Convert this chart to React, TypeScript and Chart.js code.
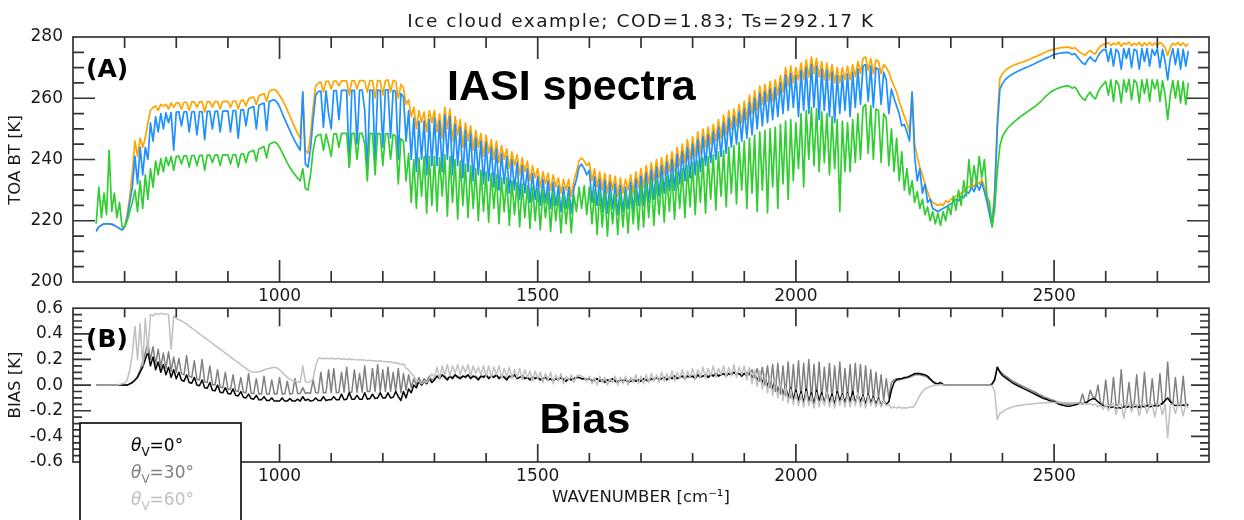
import React, { useEffect, useRef } from "react";
import { Chart, registerables } from "chart.js";

Chart.register(...registerables);

// Channel grid (cm-1): every series holds one value per channel
const WN_START = 645;
const WN_STEP = 5;

// TOA brightness temperature [K] for the three viewing angles
const BT_VIEW_0 = [
  // 645
  217, 218, 218.5, 219, 219, 219, 219, 218.5, 218, 217.5, 217,
  // 700
  218, 222, 228, 236, 246, 241, 247, 244, 247, 252, 256, 257, 257.5, 256, 258, 257.5, 258, 256.5, 258.5, 257,
  // 800
  258.5, 258.5, 256.5, 258.7, 258.7, 256, 258.8, 258.8, 257, 258.8, 258.9, 255.5, 258.9, 258.9, 257, 259, 259, 256.5, 259, 259,
  // 900
  259, 257, 259.1, 259.1, 256.5, 259.2, 259.4, 257.5, 259.8, 260.2, 260.4, 258, 260.8, 261.2, 261.5, 259, 262.2, 262.7, 262.9, 262.2,
  // 1000
  261, 259.6, 258, 256.2, 254.2, 252.2, 250.3, 248.5, 247, 262, 243, 242, 248, 257, 264, 265, 265.3, 262, 265.5, 265.5,
  // 1100
  263, 265.6, 265.6, 264, 265.7, 265.7, 265.7, 261, 265.7, 265.7, 263, 265.8, 265.8, 265.5, 262, 265.8, 265.8, 260, 265.8, 265.7,
  // 1200
  261, 265.8, 266, 262, 265.8, 265.5, 260, 264.5, 263.5, 258, 259.5, 254, 257, 250, 256, 252, 255.5, 249, 256, 252,
  // 1300
  256, 249, 255, 247, 257, 250, 256.5, 246, 254, 248, 253, 244, 252, 246, 251, 243, 249.5, 244, 248.5, 241,
  // 1400
  248, 242, 246.5, 240, 246, 239, 244.5, 240, 243.5, 237, 242.5, 238, 241.5, 235, 240.5, 236, 239.5, 233, 238, 234,
  // 1500
  237, 231, 236, 232, 235.5, 230, 235, 231, 234, 229, 233.5, 230, 233.5, 228, 233, 236, 239.5, 240.5, 239.5, 238,
  // 1600
  239, 233, 237, 231, 236, 230, 235.5, 229, 235, 230, 234.5, 228, 234, 229, 233.5, 230, 235, 229, 236, 231,
  // 1700
  237, 231, 238, 232, 239, 233, 240, 234, 240.5, 235, 241.5, 236, 242.5, 236, 244, 238, 245, 239, 246.5, 240,
  // 1800
  247.5, 241, 249, 242, 250, 244, 250.5, 245, 251.5, 246, 253, 247, 254.5, 248, 256, 250, 256.5, 251, 258, 252,
  // 1900
  259, 253, 261, 255, 262.5, 256, 264, 258, 264.5, 259, 265.5, 259, 266, 261, 267.5, 262, 270, 264, 270.5, 265,
  // 2000
  270, 266, 271.5, 266, 272.5, 267, 273.5, 268, 273, 267, 272, 266, 271.5, 266, 271, 265, 270, 265, 270, 266,
  // 2100
  270.5, 266, 271, 267, 272, 268, 273, 273.5, 269, 273, 268, 272.5, 272, 268, 271, 270, 268.5, 266, 264, 262,
  // 2200
  259, 256.5, 254, 252, 249, 262, 245, 241, 237.5, 235, 232, 229.5, 227, 226, 225.5, 225, 225.5, 225, 226.5, 226,
  // 2300
  227, 227.5, 228, 228.5, 229, 229.5, 230.5, 231, 232, 231, 233, 232, 233.5, 231, 228, 223, 219, 230, 253, 266.5,
  // 2400
  268, 269, 269.7, 270.2, 270.6, 271, 271.3, 271.6, 271.9, 272.2, 272.5, 272.9, 273.3, 273.6, 274, 274.4, 274.8, 275.2, 275.5, 275.8,
  // 2500
  276, 276.2, 276.4, 276.5, 276.6, 276.7, 276.6, 276.2, 276.5, 275.8, 275, 274.5, 274, 275, 275.6, 274.8, 274.5, 276, 277, 277.6,
  // 2600
  277.8, 278.2, 277.2, 278, 277.5, 278.3, 277, 278, 277.6, 278.3, 277.1, 278, 277.4, 278.2, 277, 278.1, 277.3, 278.3, 277.2, 278,
  // 2700
  277.3, 278.2, 277.5, 276.5, 274, 276.5, 278, 277.4, 278.2, 277.2, 278.1, 277, 277.8,
];

const BT_VIEW_30 = [
  // 645
  216.5, 218, 218.5, 219, 219, 219, 218.8, 218.5, 218, 217.5, 217,
  // 700
  218, 221, 226, 231, 241, 232, 244, 235, 244, 240, 252, 246, 254, 249, 255, 250, 255.2, 252, 255.3, 243,
  // 800
  255.5, 255.6, 251, 255.6, 255.6, 249, 255.6, 255.6, 248, 255.6, 255.6, 246.5, 255.7, 255.7, 250, 255.7, 255.8, 249, 255.8, 255.8,
  // 900
  255.9, 249, 256, 256, 247, 256.1, 256.3, 251, 256.6, 257, 257.3, 250, 257.7, 258.1, 258.4, 249.5, 258.9, 259.3, 259.5, 258.7,
  // 1000
  257.3, 255.2, 253.2, 251.3, 249.4, 247.6, 245.9, 244.4, 243, 262, 238.5, 237.5, 243.5, 253, 261, 262.2, 262.3, 250.5, 262.4, 255,
  // 1100
  250, 262.5, 262.5, 253, 262.6, 262.6, 262.6, 237.5, 262.6, 262.6, 245, 262.7, 262.7, 256, 236.5, 262.7, 262.7, 240, 262.7, 262.6,
  // 1200
  244, 262.7, 262.8, 247, 262.6, 262.2, 240, 261.5, 260.5, 246, 256, 240, 253.5, 236, 252.5, 240, 252.5, 235, 253, 238,
  // 1300
  253.5, 238, 252.5, 236, 254.5, 240, 254, 235, 251.5, 238, 250.5, 234, 249.5, 236, 248.5, 233, 247, 235, 246, 232,
  // 1400
  245.5, 233, 244, 231, 243.5, 230, 242, 232, 241, 229, 240, 230, 239, 227, 238, 229, 237, 226, 235.5, 227,
  // 1500
  234.5, 225, 233.5, 226, 233, 224, 232.5, 225, 231.5, 223, 231, 224, 231, 222.5, 230.5, 233.5, 237.5, 238.5, 237, 235,
  // 1600
  236.5, 226, 234.5, 225, 233.5, 223, 233, 222.5, 232.5, 224, 232, 222, 231.5, 223, 231, 224, 232.5, 223, 233.5, 225,
  // 1700
  234.5, 225, 235.5, 226, 236.5, 227, 237.5, 228, 238, 229, 239, 230, 240, 230, 241.5, 232, 242.5, 233, 244, 234,
  // 1800
  245, 235, 246.5, 236, 247.5, 238, 248, 239, 249, 240, 250.5, 241, 252, 242, 253.5, 244, 254, 245, 255.5, 246,
  // 1900
  256.5, 247, 258.5, 248, 260, 250, 261.5, 251, 262, 252, 263, 253, 263.5, 254, 265, 255, 267.5, 256, 268, 257,
  // 2000
  267.5, 254, 269, 256, 270, 255, 271, 257, 270.5, 253, 269.5, 256, 269, 254, 268.5, 252, 267.5, 255, 267.5, 256,
  // 2100
  268, 254, 268.5, 257, 269.5, 258, 270.5, 271, 259, 270.5, 257, 270, 269.5, 258, 268.5, 266, 255, 263, 260, 257.5,
  // 2200
  255, 251, 251.5, 249, 246, 262, 241, 233, 237, 229, 232, 226, 227, 224, 223.5, 223, 223.5, 224, 224.5, 225,
  // 2300
  225.5, 226, 227, 226.5, 228, 227.5, 229.5, 229, 231, 229.5, 232, 230, 232.5, 229.5, 226, 222, 218, 228, 250, 263,
  // 2400
  264.8, 266, 266.8, 267.4, 267.9, 268.4, 268.8, 269.2, 269.6, 270, 270.3, 270.7, 271.1, 271.5, 271.9, 272.3, 272.7, 273.1, 273.5, 273.9,
  // 2500
  274.3, 274.5, 274.7, 274.8, 274.9, 275, 274.8, 274.2, 274.6, 273.5, 272.5, 271.5, 271, 272.5, 273.5, 272.5, 272, 273.8, 275, 275.8,
  // 2600
  276, 272, 276.2, 270.5, 276, 275, 269.5, 276.2, 273, 276.3, 270, 276, 275.5, 269.5, 276.2, 272, 276.3, 270.5, 276, 274,
  // 2700
  276.2, 270, 276, 272, 266, 273, 276.2, 271, 276.1, 269.5, 276, 270.5, 275.5,
];

const BT_VIEW_60 = [
  // 645
  219, 231, 221, 229, 222, 243, 223, 229, 221, 226, 218,
  // 700
  218, 220, 223, 226, 230, 223, 233, 224, 235, 227, 237, 231, 239.5, 235, 240.3, 236, 240.7, 238, 241, 236.5,
  // 800
  241, 241.1, 238.5, 241.2, 241.2, 237.5, 241.3, 241.3, 238, 241.3, 241.4, 236.5, 241.4, 241.4, 239, 241.4, 241.5, 238, 241.5, 241.5,
  // 900
  241.5, 238.5, 241.6, 241.6, 237.5, 241.7, 241.9, 239, 242.3, 242.7, 243, 239.5, 243.4, 243.8, 244.2, 240.5, 244.9, 245.4, 245.7, 245.2,
  // 1000
  244, 242.3, 240.6, 238.9, 237.4, 236.1, 235, 233.9, 233, 237, 230.5, 230, 235, 243, 247.3, 248, 248.2, 243, 248.3, 245,
  // 1100
  241, 248.4, 248.4, 244, 248.5, 248.5, 248.5, 237.5, 248.5, 248.5, 240, 248.5, 248.5, 245, 233, 248.5, 248.5, 235, 248.5, 248.4,
  // 1200
  238, 248.4, 248.5, 240, 248.2, 247.6, 232, 246.8, 246, 233, 242, 226, 240, 224, 240.5, 228, 241, 222.5, 241, 225,
  // 1300
  241, 223, 240.5, 228, 241.5, 221.5, 241, 226, 240, 220.5, 239.5, 225, 238.5, 221, 238, 224, 237, 220, 236.5, 223,
  // 1400
  236, 219.5, 235.5, 224, 235, 219, 234, 223, 234, 218.5, 233, 222, 232.5, 218, 232, 221, 231.5, 217.5, 231, 220,
  // 1500
  230.5, 217, 230, 221, 229.5, 216.5, 229, 220, 228.5, 216, 228.5, 219, 228, 216, 228.5, 223, 231, 224, 231.5, 222,
  // 1600
  231, 219, 230, 215.5, 229.5, 218, 229, 215, 229, 219, 228.5, 215.5, 229, 218, 229, 216, 230, 219, 230.5, 217,
  // 1700
  231.5, 218, 232.5, 221, 233, 218.5, 233.5, 222, 234, 219.5, 234.5, 223, 235.5, 220.5, 236, 224, 237, 221, 238, 224.5,
  // 1800
  239, 222, 239.5, 226, 240.5, 222.5, 241, 227, 241.5, 223.5, 242.5, 228, 243, 224.5, 244, 229, 244.5, 225.5, 245.5, 230,
  // 1900
  246, 224, 247, 229, 248, 223, 249, 230, 249.5, 222.5, 250, 231, 250.5, 224, 251.5, 232, 252.5, 227, 253, 233,
  // 2000
  252, 237, 255, 231, 256, 240, 257, 238, 256.5, 236, 255.5, 239, 255, 235, 254, 237, 253, 223, 252.5, 236,
  // 2100
  252, 236, 253, 239, 255, 240, 257, 258, 242, 257.5, 240, 256.5, 256, 239, 255, 253.5, 238, 250, 236, 247,
  // 2200
  233, 242.5, 230, 237, 228.5, 233, 226, 229.5, 224, 227, 222, 224.5, 220, 223, 219, 222.5, 218.5, 223, 220, 225,
  // 2300
  222, 228, 223.5, 230, 225, 233, 228, 240, 231, 238, 232, 241, 234, 240, 228, 226, 218, 224, 236, 244.5,
  // 2400
  247.5, 249, 250.2, 251.1, 251.9, 252.6, 253.3, 254, 254.6, 255.2, 255.8, 256.4, 257, 257.6, 258.3, 259, 260, 260.8, 261.5, 262.2,
  // 2500
  262.7, 263.1, 263.4, 263.7, 263.9, 264.1, 263.9, 263.3, 263.7, 262.6, 261, 260, 259.3, 261, 262, 260.5, 259.8, 262, 263.5, 264.5,
  // 2600
  265.5, 261, 266, 259, 265.8, 264.5, 258.5, 266, 262, 266.2, 259.5, 266, 265, 258.5, 266, 261.5, 266.2, 259, 266, 263,
  // 2700
  266, 259, 265.8, 261, 253, 261, 265.8, 260, 265.7, 258.5, 265.5, 258, 265,
];

// Bias [K] for the three viewing angles
const BIAS_VIEW_0 = [
  // 645
  0, 0, 0, 0, 0, 0, 0, 0, 0, 0, 0,
  // 700
  0, 0, 0.01, 0.02, 0.04, 0.06, 0.1, 0.14, 0.2, 0.26, 0.15, 0.22, 0.12, 0.18, 0.1, 0.16, 0.08, 0.14, 0.06, 0.12,
  // 800
  0.05, 0.1, 0.04, 0.03, 0.08, 0.02, 0.015, 0.06, 0, -0.005, 0.04, -0.02, -0.025, 0.02, -0.04, -0.045, 0, -0.055, -0.06, -0.02,
  // 900
  -0.065, -0.07, -0.03, -0.08, -0.085, -0.05, -0.095, -0.1, -0.07, -0.105, -0.11, -0.08, -0.115, -0.115, -0.09, -0.12, -0.12, -0.1, -0.125, -0.125,
  // 1000
  -0.125, -0.1, -0.125, -0.125, -0.105, -0.125, -0.125, -0.11, -0.125, -0.09, -0.12, -0.11, -0.125, -0.12, -0.1, -0.12, -0.12, -0.09, -0.12, -0.115,
  // 1100
  -0.115, -0.09, -0.115, -0.115, -0.07, -0.115, -0.11, -0.06, -0.11, -0.11, -0.08, -0.11, -0.11, -0.06, -0.11, -0.105, -0.07, -0.105, -0.1, -0.06,
  // 1200
  -0.1, -0.1, -0.06, -0.1, -0.095, -0.05, -0.09, -0.12, -0.05, -0.1, -0.03, -0.06, 0, -0.02, 0.03, 0, 0.03, 0.01, 0.05, 0.02,
  // 1300
  0.04, 0.07, 0.05, 0.08, 0.06, 0.04, 0.07, 0.05, 0.08, 0.06, 0.05, 0.07, 0.06, 0.08, 0.05, 0.07, 0.06, 0.04, 0.07, 0.06,
  // 1400
  0.08, 0.05, 0.07, 0.06, 0.08, 0.05, 0.07, 0.06, 0.04, 0.07, 0.06, 0.08, 0.05, 0.06, 0.07, 0.05, 0.06, 0.04, 0.06, 0.05,
  // 1500
  0.06, 0.04, 0.05, 0.06, 0.04, 0.05, 0.03, 0.05, 0.04, 0.06, 0.04, 0.03, 0.05, 0.04, 0.05, 0.06, 0.06, 0.05, 0.05, 0.04,
  // 1600
  0.05, 0.03, 0.04, 0.05, 0.03, 0.04, 0.02, 0.04, 0.03, 0.05, 0.03, 0.02, 0.04, 0.03, 0.04, 0.02, 0.03, 0.04, 0.03, 0.04,
  // 1700
  0.03, 0.05, 0.04, 0.03, 0.05, 0.04, 0.06, 0.04, 0.05, 0.06, 0.04, 0.06, 0.05, 0.07, 0.05, 0.06, 0.07, 0.05, 0.07, 0.06,
  // 1800
  0.07, 0.05, 0.08, 0.06, 0.07, 0.08, 0.06, 0.08, 0.07, 0.09, 0.07, 0.08, 0.09, 0.07, 0.09, 0.08, 0.1, 0.08, 0.09, 0.07,
  // 1900
  0.09, 0.07, 0.1, 0.06, 0.09, 0.04, 0.08, 0.02, 0.07, -0.01, 0.05, -0.03, 0.04, -0.06, 0.02, -0.08, 0, -0.1, -0.02, -0.11,
  // 2000
  -0.04, -0.12, -0.05, -0.14, -0.03, -0.13, -0.06, -0.15, -0.04, -0.12, -0.06, -0.14, -0.05, -0.13, -0.07, -0.15, -0.05, -0.12, -0.07, -0.14,
  // 2100
  -0.06, -0.13, -0.05, -0.14, -0.07, -0.13, -0.08, -0.15, -0.07, -0.14, -0.09, -0.15, -0.1, -0.16, -0.12, -0.15, -0.13, -0.04, 0.02, 0.04,
  // 2200
  0.05, 0.05, 0.06, 0.06, 0.07, 0.08, 0.09, 0.09, 0.09, 0.085, 0.08, 0.07, 0.05, 0.03, 0.015, 0.01, 0.02, 0.005, 0, 0,
  // 2300
  0, 0, 0, 0, 0, 0, 0, 0, 0, 0, 0, 0, 0, 0, 0, 0, 0.01, 0.04, 0.14, 0.1,
  // 2400
  0.075, 0.06, 0.045, 0.03, 0.015, 0.005, -0.005, -0.015, -0.025, -0.035, -0.045, -0.055, -0.065, -0.075, -0.085, -0.095, -0.105, -0.11, -0.12, -0.125,
  // 2500
  -0.13, -0.14, -0.15, -0.155, -0.16, -0.165, -0.165, -0.16, -0.155, -0.15, -0.14, -0.145, -0.14, -0.13, -0.115, -0.105, -0.11, -0.13, -0.15, -0.16,
  // 2600
  -0.165, -0.17, -0.175, -0.17, -0.18, -0.175, -0.18, -0.17, -0.175, -0.165, -0.175, -0.17, -0.165, -0.175, -0.165, -0.17, -0.16, -0.17, -0.165, -0.16,
  // 2700
  -0.165, -0.155, -0.14, -0.12, -0.1, -0.13, -0.15, -0.16, -0.155, -0.16, -0.155, -0.16, -0.155,
];

const BIAS_VIEW_30 = [
  // 645
  0, 0, 0, 0, 0, 0, 0, 0, 0, 0, 0,
  // 700
  0, 0, 0.01, 0.02, 0.04, 0.07, 0.12, 0.18, 0.25, 0.33, 0.2, 0.3, 0.16, 0.28, 0.14, 0.25, 0.13, 0.26, 0.11, 0.22,
  // 800
  0.1, 0.21, 0.09, 0.08, 0.23, 0.07, 0.06, 0.19, 0.045, 0.04, 0.2, 0.025, 0.02, 0.15, 0.005, 0, 0.12, -0.015, -0.02, 0.1,
  // 900
  -0.03, -0.035, 0.08, -0.045, -0.05, 0.06, -0.055, -0.06, 0.09, -0.065, -0.065, 0.05, -0.07, -0.07, 0.07, -0.07, -0.07, 0.04, -0.07, -0.07,
  // 1000
  0.06, -0.07, -0.07, 0.03, -0.07, -0.065, 0.05, -0.065, -0.065, -0.02, -0.065, -0.06, -0.065, 0.04, -0.06, -0.06, 0.1, -0.06, -0.06, 0.12,
  // 1100
  -0.06, 0.13, -0.06, -0.055, 0.1, -0.055, 0.14, -0.055, -0.055, 0.12, -0.055, 0.09, -0.055, 0.15, -0.05, -0.05, 0.13, -0.05, 0.16, -0.05,
  // 1200
  0.12, -0.05, 0.14, -0.05, 0.1, -0.05, 0.13, -0.06, 0.09, -0.04, 0.08, -0.02, 0.05, 0, 0.06, 0.01, 0.05, 0.03, 0.07, 0.04,
  // 1300
  0.05, 0.07, 0.06, 0.08, 0.07, 0.05, 0.07, 0.06, 0.08, 0.07, 0.06, 0.07, 0.07, 0.08, 0.06, 0.07, 0.07, 0.05, 0.07, 0.07,
  // 1400
  0.08, 0.06, 0.07, 0.07, 0.08, 0.06, 0.07, 0.07, 0.05, 0.07, 0.07, 0.08, 0.06, 0.06, 0.07, 0.06, 0.06, 0.05, 0.06, 0.06,
  // 1500
  0.06, 0.05, 0.05, 0.06, 0.05, 0.05, 0.04, 0.05, 0.05, 0.06, 0.05, 0.04, 0.05, 0.05, 0.05, 0.06, 0.06, 0.05, 0.05, 0.05,
  // 1600
  0.05, 0.04, 0.04, 0.05, 0.04, 0.04, 0.03, 0.04, 0.04, 0.05, 0.04, 0.03, 0.04, 0.04, 0.04, 0.03, 0.04, 0.04, 0.04, 0.04,
  // 1700
  0.04, 0.05, 0.04, 0.04, 0.05, 0.05, 0.06, 0.05, 0.05, 0.06, 0.05, 0.06, 0.06, 0.07, 0.06, 0.06, 0.07, 0.06, 0.07, 0.07,
  // 1800
  0.07, 0.06, 0.08, 0.07, 0.07, 0.08, 0.07, 0.08, 0.08, 0.09, 0.08, 0.08, 0.09, 0.08, 0.09, 0.09, 0.1, 0.09, 0.09, 0.08,
  // 1900
  0.09, 0.1, 0.08, 0.12, 0.06, 0.13, 0.03, 0.14, 0, 0.15, -0.02, 0.16, -0.05, 0.17, -0.07, 0.15, -0.08, 0.18, -0.1, 0.16,
  // 2000
  -0.1, 0.19, -0.11, 0.17, -0.09, 0.2, -0.12, 0.16, -0.1, 0.18, -0.11, 0.14, -0.09, 0.17, -0.12, 0.15, -0.1, 0.18, -0.11, 0.13,
  // 2100
  -0.1, 0.16, -0.11, 0.17, -0.09, 0.16, -0.12, 0.15, -0.1, 0.12, -0.12, 0.1, -0.1, 0.08, -0.12, 0.05, -0.1, 0.02, 0.04, 0.05,
  // 2200
  0.04, 0.05, 0.05, 0.06, 0.06, 0.07, 0.08, 0.08, 0.08, 0.075, 0.07, 0.06, 0.04, 0.025, 0.01, 0.01, 0.015, 0.005, 0, 0,
  // 2300
  0, 0, 0, 0, 0, 0, 0, 0, 0, 0, 0, 0, 0, 0, 0, 0, 0.01, 0.05, 0.14, 0.11,
  // 2400
  0.09, 0.075, 0.06, 0.045, 0.03, 0.02, 0.01, 0, -0.01, -0.02, -0.03, -0.04, -0.05, -0.06, -0.07, -0.08, -0.09, -0.1, -0.105, -0.115,
  // 2500
  -0.12, -0.13, -0.135, -0.14, -0.145, -0.15, -0.15, -0.145, -0.14, -0.14, -0.14, -0.07, -0.14, -0.13, -0.04, -0.09, -0.1, 0, -0.14, -0.15,
  // 2600
  0.04, -0.15, -0.16, 0.06, -0.16, -0.15, 0.12, -0.16, -0.16, 0.02, -0.16, -0.15, 0.08, -0.16, -0.16, 0.1, -0.15, -0.16, 0.05, -0.15,
  // 2700
  -0.15, 0.09, -0.15, -0.12, 0.18, -0.12, -0.15, 0.06, -0.15, -0.15, 0.07, -0.15, -0.15,
];

const BIAS_VIEW_60 = [
  // 645
  0, 0, 0, 0, 0, 0, 0, 0, 0, 0.005, 0.01,
  // 700
  0.015, 0.04, 0.12, 0.25, 0.46, 0.2, 0.48, 0.15, 0.52, 0.25, 0.55, 0.54, 0.56, 0.55, 0.56, 0.555, 0.555, 0.55, 0.28, 0.54,
  // 800
  0.52, 0.51, 0.5, 0.49, 0.475, 0.46, 0.445, 0.43, 0.415, 0.4, 0.385, 0.37, 0.355, 0.34, 0.325, 0.31, 0.295, 0.28, 0.265, 0.25,
  // 900
  0.235, 0.22, 0.205, 0.19, 0.175, 0.16, 0.145, 0.13, 0.115, 0.105, 0.1, 0.1, 0.105, 0.11, 0.12, 0.125, 0.13, 0.135, 0.14, 0.135,
  // 1000
  0.12, 0.1, 0.08, 0.06, 0.045, 0.035, 0.03, 0.025, 0.02, 0.15, 0.025, 0.02, 0.025, 0.05, 0.15, 0.21, 0.21, 0.205, 0.21, 0.205,
  // 1100
  0.21, 0.205, 0.205, 0.21, 0.2, 0.205, 0.2, 0.205, 0.2, 0.2, 0.195, 0.2, 0.195, 0.195, 0.19, 0.195, 0.19, 0.19, 0.185, 0.19,
  // 1200
  0.185, 0.185, 0.18, 0.18, 0.175, 0.175, 0.17, 0.16, 0.165, 0.13, 0.12, 0.09, 0.07, 0.04, 0.03, 0.01, 0.03, 0.02, 0.05, 0.09,
  // 1300
  0.06, 0.14, 0.05, 0.15, 0.08, 0.16, 0.07, 0.15, 0.09, 0.16, 0.08, 0.15, 0.1, 0.16, 0.07, 0.15, 0.09, 0.14, 0.08, 0.15,
  // 1400
  0.07, 0.15, 0.06, 0.14, 0.08, 0.15, 0.05, 0.13, 0.07, 0.14, 0.05, 0.12, 0.06, 0.13, 0.04, 0.12, 0.06, 0.11, 0.03, 0.11,
  // 1500
  0.05, 0.1, 0.02, 0.09, 0.04, 0.1, 0.01, 0.08, 0.03, 0.09, 0.01, 0.07, 0.04, 0.08, 0.02, 0.07, 0.08, 0.07, 0.06, 0.03,
  // 1600
  0.07, 0.01, 0.06, 0, 0.07, 0.02, 0.06, 0, 0.05, 0.02, 0.07, 0, 0.06, 0.01, 0.07, 0, 0.06, 0.02, 0.08, 0.01,
  // 1700
  0.07, 0.01, 0.08, 0.02, 0.09, 0.03, 0.08, 0.02, 0.1, 0.03, 0.09, 0.04, 0.11, 0.03, 0.1, 0.05, 0.12, 0.04, 0.11, 0.06,
  // 1800
  0.13, 0.05, 0.12, 0.06, 0.14, 0.05, 0.13, 0.07, 0.15, 0.06, 0.13, 0.08, 0.15, 0.06, 0.14, 0.07, 0.16, 0.06, 0.14, 0.08,
  // 1900
  0.15, 0.04, 0.14, 0.01, 0.12, -0.01, 0.11, -0.03, 0.09, -0.06, 0.07, -0.08, 0.05, -0.1, 0.03, -0.12, 0, -0.14, -0.03, -0.15,
  // 2000
  -0.06, -0.16, -0.07, -0.17, -0.05, -0.16, -0.08, -0.18, -0.06, -0.17, -0.08, -0.16, -0.05, -0.17, -0.09, -0.18, -0.07, -0.16, -0.08, -0.17,
  // 2100
  -0.07, -0.17, -0.08, -0.16, -0.06, -0.17, -0.09, -0.18, -0.08, -0.16, -0.1, -0.17, -0.11, -0.17, -0.12, -0.16, -0.15, -0.18, -0.17, -0.18,
  // 2200
  -0.17, -0.18, -0.175, -0.18, -0.17, -0.175, -0.16, -0.12, -0.08, -0.05, -0.03, -0.02, -0.01, -0.005, 0, 0, 0.005, 0, 0, 0,
  // 2300
  0, 0, 0, 0, 0, 0, 0, 0, 0, 0, 0, 0, 0, 0, 0, 0, -0.005, -0.05, -0.27, -0.22,
  // 2400
  -0.21, -0.195, -0.185, -0.177, -0.17, -0.165, -0.161, -0.158, -0.155, -0.152, -0.15, -0.148, -0.145, -0.143, -0.141, -0.14, -0.138, -0.137, -0.136, -0.135,
  // 2500
  -0.135, -0.135, -0.135, -0.136, -0.137, -0.138, -0.138, -0.139, -0.14, -0.14, -0.14, -0.142, -0.145, -0.15, -0.145, -0.155, -0.15, -0.17, -0.155, -0.19,
  // 2600
  -0.15, -0.2, -0.15, -0.145, -0.23, -0.15, -0.15, -0.26, -0.15, -0.145, -0.21, -0.15, -0.15, -0.24, -0.145, -0.15, -0.22, -0.15, -0.15, -0.25,
  // 2700
  -0.15, -0.15, -0.23, -0.15, -0.41, -0.15, -0.15, -0.22, -0.15, -0.15, -0.24, -0.15, -0.18,
];

// Axis ranges and tick spacing
const X_RANGE = [600, 2800];
const BT_RANGE = [200, 280];
const BIAS_RANGE = [-0.6, 0.6];
const X_MINOR = 100;
const X_MAJOR = 500;

const TITLE = "Ice cloud example; COD=1.83; Ts=292.17 K";
const VIEW_ANGLES = ["0°", "30°", "60°"];

const COLORS = {
  view0: "#FFA500",
  view30: "#1E90FF",
  view60: "#32CD32",
  bias0: "#000000",
  bias30: "#808080",
  bias60: "#C0C0C0",
  frame: "#333333",
  text: "#1a1a1a",
};

const FONT = '"DejaVu Sans", Verdana, sans-serif';
const HEAVY_FONT = '"Liberation Sans", Arial, Helvetica, sans-serif';

const W = 1244;
const PLOT_LEFT = 73;
const PLOT_RIGHT = 1209;
const TOP_H = 310;
const TOP_PLOT_TOP = 37;
const TOP_PLOT_BOTTOM = 282;
const BOT_TOP = 288;
const BOT_H = 232;
const BOT_PLOT_TOP = 307;
const BOT_PLOT_BOTTOM = 462;
const X_AXIS_H = 28;

const toPoints = (vals: number[]) =>
  vals.map((y, i) => ({ x: WN_START + i * WN_STEP, y }));

type FrameCfg = {
  yMinor: number;
  yMajor: number;
  minorLen: number;
  majorLen: number;
};

// Box around the plot area with inward ticks on all four sides,
// plus the wavenumber labels under the major x ticks
function framePlugin(cfg: FrameCfg) {
  return {
    id: "frame",
    afterDraw(chart: any) {
      const { ctx, chartArea } = chart;
      const { left, right, top, bottom } = chartArea;
      const xs = chart.scales.x;
      const ys = chart.scales.y;
      const onStep = (v: number, step: number) =>
        Math.abs(v / step - Math.round(v / step)) < 1e-6;
      ctx.save();
      ctx.strokeStyle = COLORS.frame;
      ctx.lineWidth = 1.7;
      ctx.beginPath();
      const nx = Math.round((xs.max - xs.min) / X_MINOR);
      const xLabels: { px: number; v: number }[] = [];
      for (let k = 1; k < nx; k++) {
        const v = xs.min + k * X_MINOR;
        const px = xs.getPixelForValue(v);
        const major = onStep(v, X_MAJOR);
        const len = major ? cfg.majorLen : cfg.minorLen;
        if (major) xLabels.push({ px, v });
        ctx.moveTo(px, bottom);
        ctx.lineTo(px, bottom - len);
        ctx.moveTo(px, top);
        ctx.lineTo(px, top + len);
      }
      const ny = Math.round((ys.max - ys.min) / cfg.yMinor);
      for (let k = 1; k < ny; k++) {
        const v = ys.min + k * cfg.yMinor;
        const py = ys.getPixelForValue(v);
        const len = onStep(v, cfg.yMajor) ? cfg.majorLen : cfg.minorLen;
        ctx.moveTo(left, py);
        ctx.lineTo(left + len, py);
        ctx.moveTo(right, py);
        ctx.lineTo(right - len, py);
      }
      ctx.stroke();
      ctx.strokeRect(left, top, right - left, bottom - top);

      ctx.fillStyle = COLORS.text;
      ctx.font = `17px ${FONT}`;
      ctx.textAlign = "center";
      ctx.textBaseline = "alphabetic";
      xLabels.forEach(({ px, v }) => ctx.fillText(String(Math.round(v)), px, bottom + 19));
      ctx.restore();
    },
  };
}

function drawRotated(ctx: CanvasRenderingContext2D, text: string, x: number, y: number) {
  ctx.save();
  ctx.translate(x, y);
  ctx.rotate(-Math.PI / 2);
  ctx.textAlign = "center";
  ctx.textBaseline = "alphabetic";
  ctx.fillText(text, 0, 0);
  ctx.restore();
}

const topTextPlugin = {
  id: "topText",
  afterDraw(chart: any) {
    const ctx: CanvasRenderingContext2D = chart.ctx;
    const { left, right } = chart.chartArea;
    ctx.save();
    ctx.fillStyle = COLORS.text;
    ctx.textBaseline = "alphabetic";
    ctx.font = `18.5px ${FONT}`;
    ctx.textAlign = "center";
    if ("letterSpacing" in ctx) (ctx as any).letterSpacing = "1.5px";
    ctx.fillText(TITLE, (left + right) / 2, 27);
    if ("letterSpacing" in ctx) (ctx as any).letterSpacing = "0px";
    ctx.textAlign = "left";
    ctx.fillStyle = "#000";
    ctx.font = `bold 25px ${FONT}`;
    ctx.fillText("(A)", 86, 77);
    ctx.font = `bold 43px ${HEAVY_FONT}`;
    ctx.fillText("IASI spectra", 447, 100);
    ctx.fillStyle = COLORS.text;
    ctx.font = `16.5px ${FONT}`;
    drawRotated(ctx, "TOA BT [K]", 20, 160);
    ctx.restore();
  },
};

const bottomTextPlugin = {
  id: "bottomText",
  afterDraw(chart: any) {
    const ctx: CanvasRenderingContext2D = chart.ctx;
    const { left, right } = chart.chartArea;
    ctx.save();
    ctx.textBaseline = "alphabetic";
    ctx.textAlign = "left";
    ctx.fillStyle = "#000";
    ctx.font = `bold 25px ${FONT}`;
    ctx.fillText("(B)", 86, 59);
    ctx.font = `bold 43px ${HEAVY_FONT}`;
    ctx.fillText("Bias", 539.5, 145);
    ctx.fillStyle = COLORS.text;
    ctx.font = `16.5px ${FONT}`;
    drawRotated(ctx, "BIAS [K]", 20, 97);
    ctx.textAlign = "center";
    ctx.fillText("WAVENUMBER [cm\u207B\u00B9]", (left + right) / 2, 213.5);

    // legend box
    ctx.fillStyle = "#fff";
    ctx.fillRect(80, 135, 161, 120);
    ctx.strokeStyle = "#111";
    ctx.lineWidth = 1.7;
    ctx.strokeRect(80, 135, 161, 120);
    const legendColors = [COLORS.bias0, COLORS.bias30, COLORS.bias60];
    ctx.textAlign = "left";
    VIEW_ANGLES.forEach((angle, i) => {
      const y = 163 + i * 27;
      let x = 131;
      ctx.fillStyle = legendColors[i];
      ctx.font = `italic 17px ${FONT}`;
      ctx.fillText("\u03B8", x, y);
      x += ctx.measureText("\u03B8").width;
      ctx.font = `12px ${FONT}`;
      ctx.fillText("V", x, y + 5);
      x += ctx.measureText("V").width;
      ctx.font = `17px ${FONT}`;
      ctx.fillText("=" + angle, x, y);
    });
    ctx.restore();
  },
};

const tickFont = { family: FONT, size: 17 };

function lineSet(label: string, vals: number[], color: string, width: number) {
  return {
    label,
    data: toPoints(vals),
    borderColor: color,
    backgroundColor: color,
    borderWidth: width,
    pointRadius: 0,
    tension: 0,
    borderJoinStyle: "round" as const,
    fill: false,
  };
}

export default function App() {
  const topRef = useRef<HTMLCanvasElement>(null);
  const botRef = useRef<HTMLCanvasElement>(null);

  useEffect(() => {
    if (!topRef.current || !botRef.current) return;

    const xScale = () => ({
      type: "linear" as const,
      min: X_RANGE[0],
      max: X_RANGE[1],
      grid: { display: false, drawTicks: false },
      border: { display: false },
      ticks: { display: false, stepSize: X_MINOR },
      afterFit: (s: any) => {
        s.height = X_AXIS_H;
      },
    });

    const yScale = (range: number[], step: number, fmt?: (v: number) => string) => ({
      type: "linear" as const,
      min: range[0],
      max: range[1],
      grid: { display: false, drawTicks: false },
      border: { display: false },
      ticks: {
        stepSize: step,
        padding: 10,
        color: COLORS.text,
        font: tickFont,
        ...(fmt ? { callback: (v: any) => fmt(Number(v)) } : {}),
      },
      afterFit: (s: any) => {
        s.width = PLOT_LEFT;
      },
    });

    const common = {
      animation: false as const,
      responsive: false,
      maintainAspectRatio: false,
      devicePixelRatio: 1,
      events: [] as any[],
      parsing: false,
      plugins: {
        legend: { display: false },
        title: { display: false },
        tooltip: { enabled: false },
      },
    };

    const top = new Chart(topRef.current, {
      type: "line",
      data: {
        datasets: [
          lineSet("\u03B8v=60°", BT_VIEW_60, COLORS.view60, 1.7),
          lineSet("\u03B8v=30°", BT_VIEW_30, COLORS.view30, 1.7),
          lineSet("\u03B8v=0°", BT_VIEW_0, COLORS.view0, 1.7),
        ],
      },
      options: {
        ...common,
        layout: {
          padding: {
            top: TOP_PLOT_TOP,
            right: W - PLOT_RIGHT,
            left: 0,
            bottom: TOP_H - TOP_PLOT_BOTTOM - X_AXIS_H,
          },
        },
        scales: { x: xScale(), y: yScale(BT_RANGE, 20) },
      } as any,
      plugins: [
        framePlugin({ yMinor: 5, yMajor: 20, minorLen: 11, majorLen: 22 }),
        topTextPlugin,
      ],
    });

    const bottom = new Chart(botRef.current, {
      type: "line",
      data: {
        datasets: [
          lineSet("\u03B8v=60°", BIAS_VIEW_60, COLORS.bias60, 1.5),
          lineSet("\u03B8v=0°", BIAS_VIEW_0, COLORS.bias0, 1.5),
          lineSet("\u03B8v=30°", BIAS_VIEW_30, COLORS.bias30, 1.5),
        ],
      },
      options: {
        ...common,
        layout: {
          padding: {
            top: BOT_PLOT_TOP - BOT_TOP,
            right: W - PLOT_RIGHT,
            left: 0,
            bottom: BOT_H - (BOT_PLOT_BOTTOM - BOT_TOP) - X_AXIS_H,
          },
        },
        scales: {
          x: xScale(),
          y: yScale(BIAS_RANGE, 0.2, (v) => {
            const n = Math.round(v * 10) / 10;
            return n === 0 ? "0.0" : n.toFixed(1);
          }),
        },
      } as any,
      plugins: [
        framePlugin({ yMinor: 0.05, yMajor: 0.2, minorLen: 9, majorLen: 18 }),
        bottomTextPlugin,
      ],
    });

    return () => {
      top.destroy();
      bottom.destroy();
    };
  }, []);

  return (
    <div
      style={{
        position: "absolute",
        left: 0,
        top: 0,
        width: W,
        height: 520,
        background: "#fff",
        overflow: "hidden",
      }}
    >
      <canvas
        ref={topRef}
        width={W}
        height={TOP_H}
        style={{ position: "absolute", left: 0, top: 0, width: W, height: TOP_H }}
      />
      <canvas
        ref={botRef}
        width={W}
        height={BOT_H}
        style={{ position: "absolute", left: 0, top: BOT_TOP, width: W, height: BOT_H }}
      />
    </div>
  );
}
